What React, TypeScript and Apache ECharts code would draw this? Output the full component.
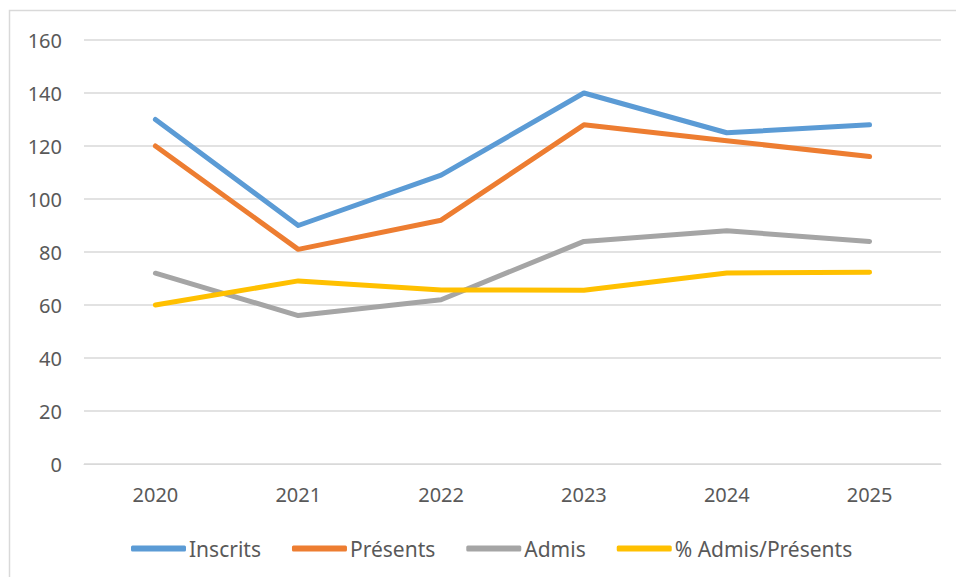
import React, { useEffect, useRef } from "react";
import * as echarts from "echarts";

const years = ["2020", "2021", "2022", "2023", "2024", "2025"];
const inscrits = [130, 90, 109, 140, 125, 128];
const presents = [120, 81, 92, 128, 122, 116];
const admis = [72, 56, 62, 84, 88, 84];
const pctAdmisPresents = [60, 69.1, 65.7, 65.6, 72.1, 72.4];

const seriesNames = ["Inscrits", "Présents", "Admis", "% Admis/Présents"];
const seriesColors = ["#5B9BD5", "#ED7D31", "#A5A5A5", "#FFC000"];
const seriesData = [inscrits, presents, admis, pctAdmisPresents];

export default function App() {
  const ref = useRef<HTMLDivElement>(null);
  useEffect(() => {
    document.body.style.margin = "0";
    if (!ref.current) return;
    const chart = echarts.init(ref.current, null, { renderer: "svg" });
    const font = "'Noto Sans', sans-serif";
    chart.setOption({
      animation: false,
      backgroundColor: "#ffffff",
      textStyle: { fontFamily: font },
      graphic: [
        {
          type: "rect",
          shape: { x: 9.5, y: 10.5, width: 1000, height: 700 },
          style: { fill: "none", stroke: "#d9d9d9", lineWidth: 1.5 },
          silent: true,
        },
      ],
      grid: { left: 84, right: 15, top: 40, bottom: 113, containLabel: false },
      legend: {
        left: 126,
        top: 533,
        itemGap: 31,
        itemWidth: 55,
        itemHeight: 6,
        icon: "roundRect",
        textStyle: { color: "#595959", fontSize: 21, fontFamily: font, padding: [0, 0, 0, -2] },
        data: seriesNames,
      },
      xAxis: {
        type: "category",
        data: years,
        boundaryGap: true,
        axisLine: { show: true, lineStyle: { color: "#d9d9d9", width: 1 } },
        axisTick: { show: false },
        axisLabel: { color: "#595959", fontSize: 20, margin: 20, fontFamily: font },
      },
      yAxis: {
        type: "value",
        min: 0,
        max: 160,
        interval: 20,
        axisLine: { show: false },
        axisTick: { show: false },
        splitLine: { lineStyle: { color: "#d9d9d9", width: 1.5 } },
        axisLabel: { color: "#595959", fontSize: 20, margin: 22, fontFamily: font },
      },
      series: seriesNames.map((name, i) => ({
        name,
        type: "line",
        data: seriesData[i],
        symbol: "none",
        color: seriesColors[i],
        lineStyle: { width: 5, color: seriesColors[i], cap: "round", join: "round" },
      })),
    });
    return () => chart.dispose();
  }, []);
  return <div ref={ref} style={{ width: 956, height: 577 }} />;
}
